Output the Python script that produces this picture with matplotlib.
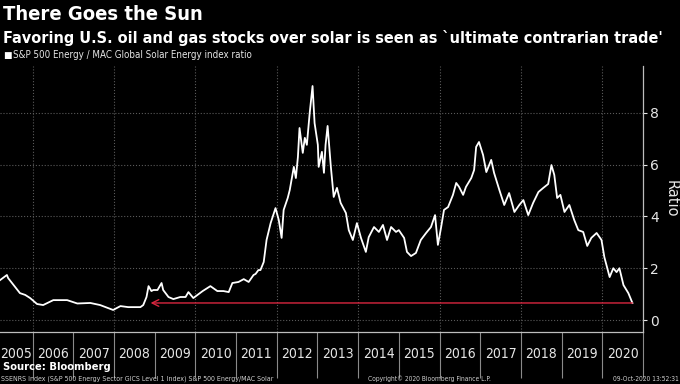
import matplotlib.pyplot as plt
import numpy as np

# S&P 500 Energy / MAC Global Solar Energy index ratio (decimal years)
years = [2005.20, 2005.37, 2005.40, 2005.57, 2005.69, 2005.82, 2005.94, 2006.11,
         2006.26, 2006.51, 2006.85, 2007.10, 2007.42, 2007.66, 2007.98, 2008.16,
         2008.35, 2008.48, 2008.65, 2008.72, 2008.80, 2008.85, 2008.92, 2008.97,
         2009.07, 2009.17, 2009.21, 2009.34, 2009.46, 2009.63, 2009.76, 2009.83,
         2009.95, 2010.18, 2010.37, 2010.54, 2010.69, 2010.82, 2010.91, 2011.06,
         2011.19, 2011.31, 2011.43, 2011.48, 2011.55, 2011.60, 2011.68, 2011.75,
         2011.85, 2011.97, 2012.05, 2012.12, 2012.17, 2012.27, 2012.32, 2012.42,
         2012.47, 2012.52, 2012.56, 2012.64, 2012.69, 2012.74, 2012.81, 2012.88,
         2012.93, 2013.01, 2013.03, 2013.11, 2013.16, 2013.20, 2013.25, 2013.33,
         2013.40, 2013.48, 2013.57, 2013.70, 2013.77, 2013.87, 2013.97, 2014.07,
         2014.19, 2014.26, 2014.39, 2014.51, 2014.61, 2014.71, 2014.81, 2014.93,
         2015.00, 2015.13, 2015.20, 2015.30, 2015.42, 2015.54, 2015.67, 2015.79,
         2015.89, 2015.96, 2016.04, 2016.11, 2016.21, 2016.33, 2016.41, 2016.48,
         2016.58, 2016.65, 2016.78, 2016.85, 2016.90, 2016.97, 2017.07, 2017.15,
         2017.27, 2017.34, 2017.47, 2017.59, 2017.71, 2017.84, 2017.96, 2018.06,
         2018.18, 2018.30, 2018.43, 2018.55, 2018.67, 2018.75, 2018.82, 2018.89,
         2018.97, 2019.07, 2019.19, 2019.31, 2019.41, 2019.53, 2019.63, 2019.73,
         2019.86, 2019.98, 2020.05, 2020.18, 2020.27, 2020.35, 2020.42, 2020.52,
         2020.64, 2020.74]
ratio = [1.54, 1.74, 1.62, 1.28, 1.04, 0.97, 0.85, 0.62,
         0.58, 0.77, 0.77, 0.64, 0.66, 0.58, 0.39, 0.54,
         0.50, 0.50, 0.50, 0.58, 0.89, 1.31, 1.12, 1.16,
         1.16, 1.43, 1.16, 0.89, 0.81, 0.89, 0.89, 1.08,
         0.85, 1.12, 1.31, 1.12, 1.12, 1.08, 1.43, 1.47,
         1.58, 1.47, 1.74, 1.78, 1.93, 1.93, 2.24, 3.09,
         3.74, 4.32, 3.86, 3.17, 4.25, 4.71, 5.02, 5.91,
         5.48, 6.29, 7.41, 6.45, 7.03, 6.76, 7.99, 9.03,
         7.60, 6.76, 5.91, 6.49, 5.68, 6.76, 7.49, 5.91,
         4.75, 5.10, 4.52, 4.13, 3.47, 3.09, 3.74, 3.17,
         2.63, 3.20, 3.59, 3.40, 3.67, 3.09, 3.59, 3.40,
         3.47, 3.17, 2.63, 2.47, 2.59, 3.09, 3.36, 3.59,
         4.05, 2.90, 3.59, 4.25, 4.36, 4.83, 5.29, 5.14,
         4.83, 5.14, 5.48, 5.79, 6.68, 6.87, 6.37, 5.71,
         6.18, 5.68, 5.02, 4.44, 4.90, 4.17, 4.44, 4.63,
         4.05, 4.52, 4.94, 5.10, 5.25, 5.98, 5.60, 4.71,
         4.83, 4.17, 4.44, 3.86, 3.47, 3.40, 2.86, 3.17,
         3.36, 3.09, 2.43, 1.66, 2.00, 1.85, 2.00, 1.35,
         1.04, 0.66]

year_labels = list(range(2005, 2021))
arrow_start = 2008.90   # where the red arrow points back to
grid_color = '#5a5a5a'
fg = '#e6e6e6'


def main():
    plt.rcParams['font.family'] = ['DejaVu Sans']
    fig = plt.figure(figsize=(6.8, 3.84), dpi=100, facecolor='black')
    ax = fig.add_axes([0.0, 0.1354, 0.9456, 0.6926], facecolor='black')

    ax.plot(years, ratio, color='white', lw=1.3)

    # red arrow: today's level carried back to 2008
    ax.annotate('', xy=(arrow_start, ratio[-1]), xytext=(years[-1], ratio[-1]),
                arrowprops=dict(arrowstyle='->', color='#d9263f', lw=1.0,
                                mutation_scale=12, shrinkA=0, shrinkB=0))

    x0, x1 = 2005.2, 2021.0
    ax.set_xlim(x0, x1)
    ax.set_ylim(-0.46, 9.8)

    # y axis on the right
    ax.yaxis.tick_right()
    ax.yaxis.set_label_position('right')
    ax.set_yticks([0, 2, 4, 6, 8])
    ax.tick_params(axis='y', colors=fg, labelsize=10, length=3, width=0.8, pad=2)
    ax.set_ylabel('Ratio', color=fg, fontsize=10.5, rotation=270, labelpad=14)

    # x axis: long separators at year boundaries, labels mid-year
    # (first year is only partly shown, so centre its label in the visible part)
    label_pos = [max(y + 0.5, (x0 + y + 1) / 2) for y in year_labels]
    ax.set_xticks(np.arange(2006, 2022))
    ax.set_xticks(label_pos, minor=True)
    ax.set_xticklabels([])
    ax.set_xticklabels([str(y) for y in year_labels], minor=True, fontstretch='condensed')
    ax.tick_params(axis='x', which='major', length=33, width=0.8, color='#8a8a8a')
    ax.tick_params(axis='x', which='minor', length=0, pad=11, labelsize=10, labelcolor=fg)

    for y in [0, 2, 4, 6, 8]:
        ax.axhline(y, color=grid_color, lw=0.8, ls=':', zorder=0)
    for x in range(2006, 2021, 2):
        ax.axvline(x, color=grid_color, lw=0.8, ls=':', zorder=0)

    for side in ['top', 'left']:
        ax.spines[side].set_visible(False)
    for side in ['bottom', 'right']:
        ax.spines[side].set_color('#bdbdbd')
        ax.spines[side].set_linewidth(0.9)

    # header
    fig.text(0.004, 0.962, 'There Goes the Sun', color='white', fontsize=14.5,
             fontweight='bold', fontstretch='condensed', va='center')
    fig.text(0.004, 0.900,
             "Favoring U.S. oil and gas stocks over solar is seen as `ultimate contrarian trade'",
             color='white', fontsize=11.6, fontweight='bold', fontstretch='condensed',
             va='center')
    fig.text(0.004, 0.856, '\u25a0', color='white', fontsize=6.5, va='center')
    fig.text(0.019, 0.856, 'S&P 500 Energy / MAC Global Solar Energy index ratio',
             color=fg, fontsize=7, fontstretch='condensed', va='center')

    # footer
    fig.text(0.004, 0.043, 'Source: Bloomberg', color='white', fontsize=8,
             fontweight='bold', fontstretch='condensed', va='center')
    fig.text(0.002, 0.014,
             'SSENRS Index (S&P 500 Energy Sector GICS Level 1 Index) S&P 500 Energy/MAC Solar',
             color='#cfcfcf', fontsize=5.0, fontstretch='condensed', va='center')
    fig.text(0.541, 0.014, 'Copyright\u00a9 2020 Bloomberg Finance L.P.',
             color='#cfcfcf', fontsize=4.8, fontstretch='condensed', va='center')
    fig.text(0.998, 0.014, '09-Oct-2020 13:52:31', color='#cfcfcf', fontsize=4.8,
             fontstretch='condensed', va='center', ha='right')

    fig.savefig('out.png', dpi=100, facecolor='black')


if __name__ == "__main__":
    main()
